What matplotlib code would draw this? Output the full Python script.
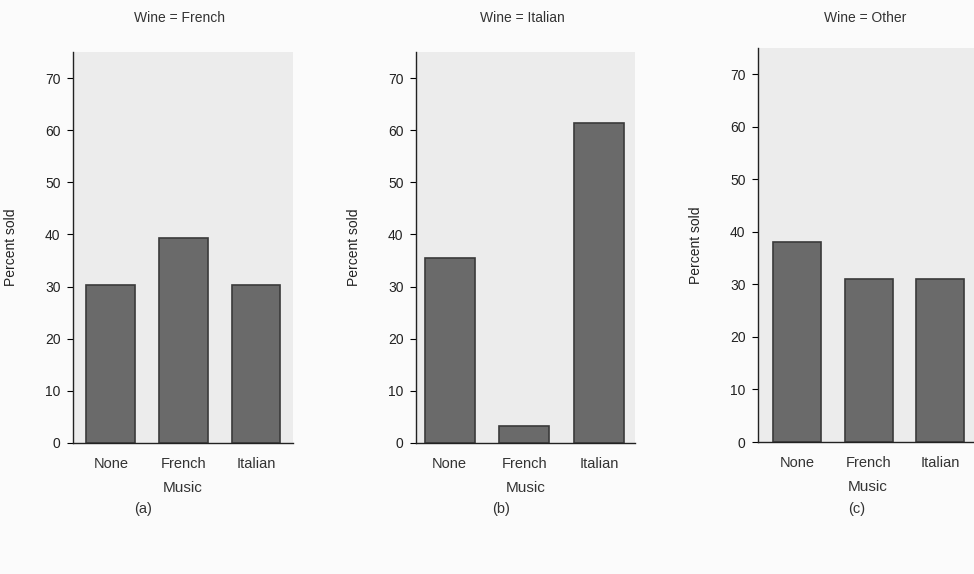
import matplotlib
matplotlib.use("Agg")
import matplotlib.pyplot as plt

music = ["None", "French", "Italian"]
wine_types = ["French", "Italian", "Other"]
pct_french = [30.3, 39.4, 30.3]
pct_italian = [35.5, 3.2, 61.3]
pct_other = [38.1, 31.0, 31.0]
panel_tags = ["(a)", "(b)", "(c)"]
yticks = [0, 10, 20, 30, 40, 50, 60, 70]

plt.rcParams['font.family'] = ['Liberation Sans', 'DejaVu Sans']

W, H = 974, 574
fig = plt.figure(figsize=(W / 100, H / 100), dpi=100)
fig.patch.set_facecolor("#fbfbfb")

# (left px, right px, top px, bottom px)
boxes = [(73, 293, 52, 443), (416, 635, 52, 443), (758, 978, 48, 442)]
xlims = [(-0.52, 2.51), (-0.45, 2.48), (-0.55, 2.53)]
title_x = [180, 522, 865]
tag_x = [143, 501, 857]
data = [pct_french, pct_italian, pct_other]

for i, (box, vals, wine, tag) in enumerate(zip(boxes, data, wine_types, panel_tags)):
    l, r, t, b = box
    ax = fig.add_axes([l / W, 1 - b / H, (r - l) / W, (b - t) / H])
    ax.set_facecolor("#ececec")
    ax.bar(range(len(music)), vals, width=0.67, color="#6a6a6a",
           edgecolor="#3a3a3a", linewidth=1.2)
    ax.set_xlim(*xlims[i])
    ax.set_ylim(0, 75)
    ax.set_yticks(yticks)
    ax.set_xticks(range(len(music)))
    ax.set_xticklabels(music, fontsize=10.5, color="#333333")
    ax.tick_params(axis="y", length=4, width=0.8, pad=5, labelsize=10,
                   labelcolor="#222222")
    ax.tick_params(axis="x", length=0, pad=10)
    for s in ["top", "right"]:
        ax.spines[s].set_visible(False)
    for s in ["left", "bottom"]:
        ax.spines[s].set_color("#222222")
        ax.spines[s].set_linewidth(1.0)
    ax.set_ylabel("Percent sold", fontsize=10, color="#222222")
    ax.yaxis.set_label_coords(-55 / (r - l), 0.5)
    ax.set_xlabel("Music", fontsize=11, color="#333333", labelpad=7)
    fig.text(title_x[i] / W, 1 - 18 / H, f"Wine = {wine}", ha="center",
             va="center", fontsize=10, color="#333333")
    fig.text(tag_x[i] / W, 1 - 509 / H, tag, ha="center", va="center",
             fontsize=10.5, color="#333333")

fig.savefig("out.png", dpi=100)
